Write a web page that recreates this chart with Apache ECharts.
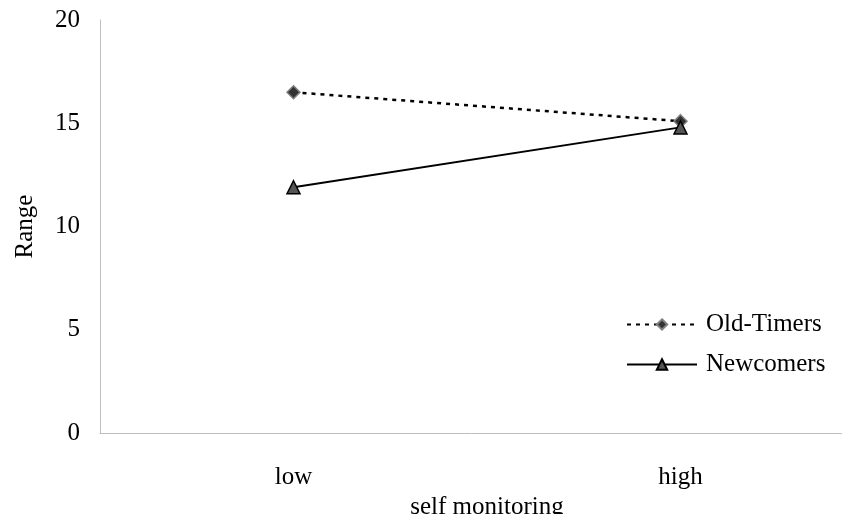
<!DOCTYPE html>
<html><head><meta charset="utf-8">
<script src="https://cdn.jsdelivr.net/npm/echarts@6/dist/echarts.min.js"></script>
<style>html,body{margin:0;padding:0;background:#fff}#c{width:842px;height:514px}</style>
</head><body><div id="c"></div>
<script>
const categories = ['low', 'high'];
const oldTimers = [16.5, 15.1];
const newcomers = [11.9, 14.8];
const yTicks = [0, 5, 10, 15, 20];

const font = '"Liberation Serif", "Times New Roman", serif';
const chart = echarts.init(document.getElementById('c'));
chart.setOption({
  animation: false,
  backgroundColor: '#fff',
  textStyle: { fontFamily: font },
  grid: { left: 100, top: 20, width: 774, bottom: 81, containLabel: false, outerBoundsMode: 'none' },
  legend: {
    orient: 'vertical', left: 626, top: 312, padding: 0, itemWidth: 70, itemHeight: 13, itemGap: 15,
    textStyle: { fontFamily: font, fontSize: 25, color: '#000', padding: [0,0,0,4] },
    data: ['Old-Timers', 'Newcomers']
  },
  xAxis: {
    type: 'category', data: categories, boundaryGap: true,
    name: 'self monitoring', nameLocation: 'middle', nameGap: 54,
    nameTextStyle: { fontFamily: font, fontSize: 25, color: '#000' },
    axisLine: { lineStyle: { color: '#bfbfbf', width: 1 } },
    axisTick: { show: false },
    axisLabel: { fontFamily: font, fontSize: 25, color: '#000', margin: 32 }
  },
  yAxis: {
    type: 'value', min: yTicks[0], max: yTicks[yTicks.length - 1], interval: 5,
    name: 'Range', nameLocation: 'middle', nameGap: 62,
    nameTextStyle: { fontFamily: font, fontSize: 25, color: '#000' },
    axisLine: { show: true, lineStyle: { color: '#bfbfbf', width: 1 } },
    axisTick: { show: false },
    splitLine: { show: false },
    axisLabel: { fontFamily: font, fontSize: 25, color: '#000', margin: 20 }
  },
  series: [
    {
      name: 'Old-Timers', type: 'line', data: oldTimers,
      symbol: 'diamond', symbolSize: 13,
      lineStyle: { color: '#000', width: 2.5, type: [4, 5] },
      itemStyle: { color: '#333', borderColor: '#808080', borderWidth: 1.5 }
    },
    {
      name: 'Newcomers', type: 'line', data: newcomers,
      symbol: 'triangle', symbolSize: 13,
      lineStyle: { color: '#000', width: 2 },
      itemStyle: { color: '#555', borderColor: '#000', borderWidth: 1.5 }
    }
  ]
});
</script></body></html>
